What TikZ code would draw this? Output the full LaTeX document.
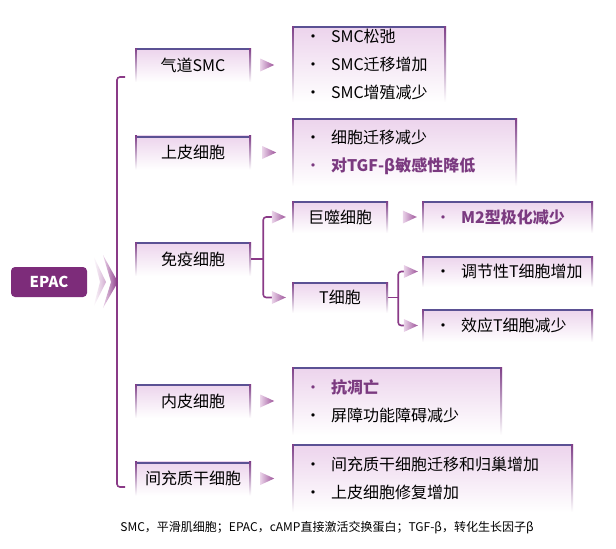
\documentclass[tikz,border=0pt]{standalone}
\usepackage{fontspec}
\setmainfont{Noto Sans CJK SC}
\usetikzlibrary{positioning}

\definecolor{violetepac}{HTML}{7D2C7A}
\definecolor{violetligne}{HTML}{8A3A87}
\definecolor{bordhaut}{HTML}{5B5194}
\definecolor{bordcote}{HTML}{7E3F88}
\definecolor{fondboite}{HTML}{ECD3EC}
\definecolor{flecheA}{HTML}{EAD3E9}
\definecolor{flecheB}{HTML}{9C5299}
\definecolor{violettexte}{HTML}{7B3A80}

\newcommand{\puce}{\makebox[26pt][l]{\textbullet}}
\newcommand{\fort}[1]{\textcolor{violettexte}{\puce\textbf{#1}}}

\begin{document}
\begin{tikzpicture}[
    x=1pt, y=-1pt,
    boite/.style={inner sep=0pt, top color=fondboite, bottom color=white,
        path picture={
            \fill[bordhaut] (path picture bounding box.north west) rectangle ([yshift=-2.2pt]path picture bounding box.north east);
            \shade[top color=bordcote, bottom color=white] (path picture bounding box.north west) rectangle ([xshift=1.8pt]path picture bounding box.south west);
            \shade[top color=bordcote, bottom color=white] (path picture bounding box.north east) rectangle ([xshift=-1.8pt]path picture bounding box.south east);
        }},
    categorie/.style={boite, minimum width=116pt, minimum height=34pt, font=\fontsize{16}{19}\selectfont},
    cellule/.style={boite, minimum width=96pt, font=\fontsize{16}{19}\selectfont},
    resultat/.style={boite, align=left, inner xsep=13pt, inner ysep=0pt, font=\fontsize{16}{28}\selectfont},
    crochet/.style={draw=violetligne, line width=1.6pt, rounded corners=3pt},
    fleche/.pic={\shade[left color=flecheA, right color=flecheB] (0,-6.5) -- (14,0) -- (0,6.5) -- cycle;}
]
\useasboundingbox (0,0) rectangle (616,549);

% EPAC et chevrons
\node[fill=violetepac, rounded corners=4pt, minimum width=76pt, minimum height=30pt,
      text=white, font=\fontsize{15}{18}\selectfont\bfseries] (epac) at (49,282) {EPAC};
\shade[left color=white, right color=flecheA!70!flecheB] (93,255) -- (106,282) -- (93,308) -- (100,282) -- cycle;
\shade[left color=flecheA, right color=violetligne] (103,255) -- (118,282) -- (103,308) -- (111,282) -- cycle;

% Accolade principale
\coordinate (hautB) at (125,77);
\coordinate (axeB) at (117,282);
\coordinate (basB) at (125,487);
\draw[crochet] (hautB) -| (axeB) |- (basB);

% Types cellulaires
\node[categorie] (smc) at (193,65) {气道SMC};
\node[categorie] (epi) at (193,152.5) {上皮细胞};
\node[categorie] (imm) at (193,259) {免疫细胞};
\node[categorie] (endo) at (193,401) {内皮细胞};
\node[categorie] (msc) at (193,478.5) {间充质干细胞};

% Effets
\node[resultat, text width=128pt, minimum height=76pt] (smcres) at (369,64)
    {\puce SMC松弛\\ \puce SMC迁移增加\\ \puce SMC增殖减少};
\node[resultat, text width=199pt, minimum height=68pt] (epires) at (404.5,152)
    {\puce 细胞迁移减少\\ \fort{对TGF-β敏感性降低}};
\node[resultat, text width=184pt, minimum height=68pt] (endores) at (397,401)
    {\fort{抗凋亡}\\ \puce 屏障功能障碍减少};
\node[resultat, text width=255pt, minimum height=68pt] (mscres) at (432.5,478)
    {\puce 间充质干细胞迁移和归巢增加\\ \puce 上皮细胞修复增加};

% Cellules immunitaires
\node[cellule, minimum height=32pt] (mac) at (340,217) {巨噬细胞};
\node[cellule, minimum height=31pt] (tcell) at (340,297.5) {T细胞};
\node[resultat, text width=145pt, minimum height=32pt] (m2) at (507.5,217) {\fort{M2型极化减少}};
\node[resultat, text width=145pt, minimum height=31pt] (treg) at (507.5,271.5) {\puce 调节性T细胞增加};
\node[resultat, text width=145pt, minimum height=33pt] (eff) at (507.5,325.5) {\puce 效应T细胞减少};

% Fleches
\pic at ([xshift=9pt]smc.east) {fleche};
\pic at ([xshift=11pt]epi.east) {fleche};
\pic at ([xshift=9pt]endo.east) {fleche};
\pic at ([xshift=9pt]msc.east) {fleche};
\pic at ([xshift=-19pt]m2.west) {fleche};

\coordinate (nimm) at ([xshift=12pt]imm.east);
\draw[crochet] (imm.east) -- (nimm);
\draw[crochet] ([xshift=-20pt]mac.west) -| (nimm) |- ([xshift=-20pt]tcell.west);
\pic at ([xshift=-20pt]mac.west) {fleche};
\pic at ([xshift=-20pt]tcell.west) {fleche};

\coordinate (nt) at ([xshift=10pt]tcell.east);
\draw[crochet] (tcell.east) -- (nt);
\draw[crochet] ([xshift=-18pt]treg.west) -| (nt) |- ([xshift=-18pt]eff.west);
\pic at ([xshift=-18pt]treg.west) {fleche};
\pic at ([xshift=-18pt]eff.west) {fleche};

% Legende
\node[font=\fontsize{12}{14}\selectfont] (note) at (327,528)
    {SMC，平滑肌细胞；EPAC，cAMP直接激活交换蛋白；TGF-β，转化生长因子β};

\end{tikzpicture}
\end{document}
